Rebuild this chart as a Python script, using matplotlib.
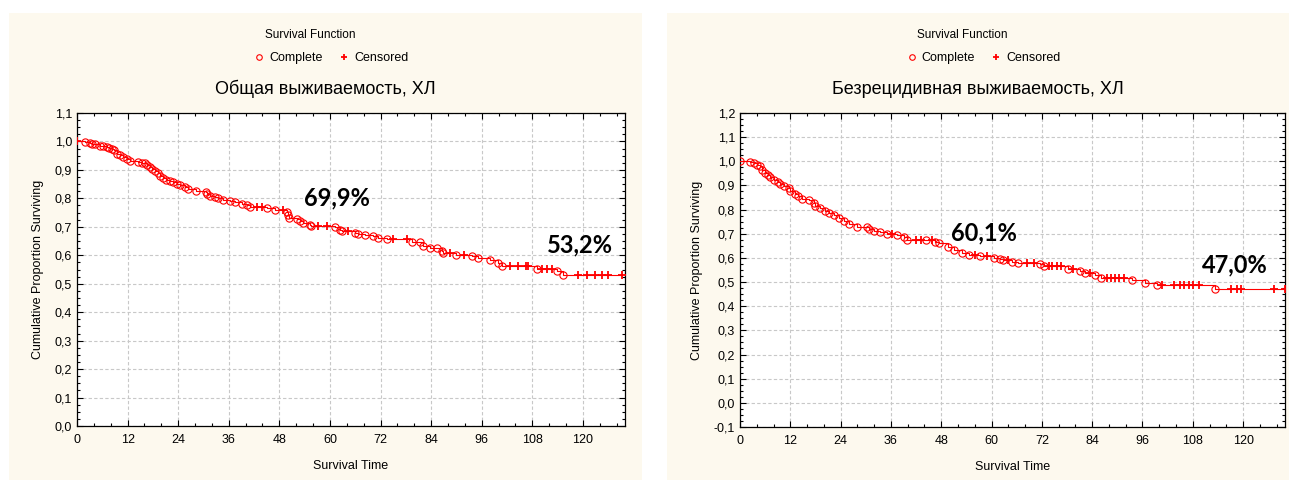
import matplotlib
matplotlib.use("Agg")
import matplotlib.pyplot as plt
from matplotlib.patches import Rectangle
from matplotlib.lines import Line2D
from matplotlib.ticker import MultipleLocator, FuncFormatter
import numpy as np

plt.rcParams['font.family'] = ['Liberation Sans', 'DejaVu Sans']

# ---- Data: Overall survival (left) ----
os_time = [0, 2.0, 3.1, 3.5, 4.3, 5.5, 6.2, 7.0, 7.7, 8.2, 8.8, 9.4, 10.2, 11.0, 11.8, 12.6,
           14.5, 15.4, 16.1, 16.5, 17.3, 17.7, 18.5, 19.1, 19.7, 20.3, 21.1, 22.1, 22.8, 23.7,
           24.4, 25.6, 26.4, 28.2, 30.6, 30.8, 31.6, 32.7, 33.5, 34.7, 36.3, 37.5, 39.1, 40.3,
           41.0, 42.6, 43.8, 45.1, 47.0, 48.9, 49.8, 50.1, 50.3, 52.2, 52.9, 53.6, 55.3, 55.5,
           57.2, 59.3, 61.2, 62.4, 62.9, 64.3, 66.0, 66.7, 68.3, 70.2, 71.4, 73.5, 75.0, 78.3,
           79.5, 81.4, 82.1, 83.7, 85.4, 86.6, 86.9, 88.5, 89.9, 91.8, 93.6, 95.1, 98.0, 99.9,
           100.8, 102.7, 104.7, 106.4, 107.1, 109.1, 110.2, 111.4, 112.6, 113.8, 115.4, 118.9,
           121.0, 122.9, 124.5, 126.0, 129.2]
os_surv = [1.000, 0.998, 0.996, 0.992, 0.990, 0.985, 0.983, 0.980, 0.976, 0.973, 0.970, 0.957,
           0.953, 0.946, 0.939, 0.930, 0.927, 0.925, 0.923, 0.918, 0.910, 0.902, 0.896, 0.888,
           0.879, 0.870, 0.866, 0.862, 0.857, 0.852, 0.847, 0.840, 0.833, 0.825, 0.822, 0.815,
           0.810, 0.806, 0.803, 0.796, 0.789, 0.786, 0.780, 0.775, 0.769, 0.769, 0.769, 0.766,
           0.759, 0.759, 0.751, 0.741, 0.731, 0.728, 0.719, 0.712, 0.708, 0.702, 0.702, 0.702,
           0.698, 0.690, 0.684, 0.684, 0.680, 0.675, 0.672, 0.667, 0.661, 0.656, 0.656, 0.656,
           0.648, 0.645, 0.634, 0.627, 0.624, 0.616, 0.609, 0.609, 0.602, 0.602, 0.598, 0.590,
           0.582, 0.574, 0.562, 0.562, 0.562, 0.562, 0.562, 0.553, 0.553, 0.553, 0.553, 0.543,
           0.532, 0.532, 0.532, 0.532, 0.532, 0.532, 0.532]
os_event = [0, 1, 1, 1, 1, 1, 1, 1, 1, 1, 1, 1, 1, 1, 1, 1, 1, 1, 1, 1, 1, 1, 1, 1, 1, 1, 1, 1,
            1, 1, 1, 1, 1, 1, 1, 1, 1, 1, 1, 1, 1, 1, 1, 1, 1, 0, 0, 1, 1, 0, 1, 1, 1, 1, 1, 1,
            1, 1, 0, 0, 1, 1, 1, 0, 1, 1, 1, 1, 1, 1, 0, 0, 1, 1, 1, 1, 1, 1, 1, 0, 1, 0, 1, 1,
            1, 1, 1, 0, 0, 0, 0, 1, 0, 0, 0, 1, 1, 0, 0, 0, 0, 0, 0]

# ---- Data: Relapse-free survival (right) ----
rfs_time = [0, 2.4, 3.4, 4.0, 4.8, 5.2, 6.0, 6.6, 7.2, 8.2, 9.0, 9.6, 10.4, 11.6, 12.0, 13.0,
            13.8, 14.8, 16.4, 17.6, 18.0, 19.2, 20.2, 21.2, 22.4, 23.5, 24.7, 25.9, 27.9, 30.3,
            30.7, 31.9, 33.5, 35.1, 36.3, 37.5, 39.1, 39.9, 42.0, 43.1, 44.4, 45.8, 46.5, 47.5,
            49.7, 51.1, 52.9, 54.7, 56.0, 57.3, 59.0, 60.7, 61.9, 62.7, 64.0, 64.8, 66.3, 68.5,
            70.2, 71.5, 72.5, 73.6, 74.5, 75.5, 76.5, 78.2, 79.5, 81.0, 82.2, 83.5, 84.6, 86.1,
            87.5, 88.5, 89.5, 90.5, 91.5, 93.4, 96.6, 99.4, 100.7, 103.5, 105.0, 106.0, 107.0,
            108.0, 109.6, 113.4, 117.0, 118.5, 119.5, 127.3, 130.0]
rfs_surv = [1.000, 0.996, 0.992, 0.986, 0.980, 0.965, 0.952, 0.942, 0.933, 0.924, 0.916, 0.906,
            0.897, 0.889, 0.876, 0.865, 0.858, 0.846, 0.840, 0.827, 0.814, 0.806, 0.795, 0.786,
            0.776, 0.765, 0.751, 0.740, 0.730, 0.726, 0.720, 0.710, 0.706, 0.698, 0.698, 0.695,
            0.688, 0.676, 0.676, 0.676, 0.673, 0.673, 0.664, 0.660, 0.645, 0.631, 0.622, 0.613,
            0.613, 0.608, 0.608, 0.600, 0.595, 0.592, 0.592, 0.585, 0.578, 0.578, 0.578, 0.575,
            0.565, 0.565, 0.565, 0.565, 0.565, 0.554, 0.554, 0.544, 0.539, 0.539, 0.529, 0.518,
            0.518, 0.518, 0.518, 0.518, 0.518, 0.507, 0.496, 0.486, 0.486, 0.486, 0.486, 0.486,
            0.486, 0.486, 0.486, 0.472, 0.472, 0.472, 0.472, 0.472, 0.472]
rfs_event = [1, 1, 1, 1, 1, 1, 1, 1, 1, 1, 1, 1, 1, 1, 1, 1, 1, 1, 1, 1, 1, 1, 1, 1, 1, 1, 1, 1,
             1, 1, 1, 1, 1, 1, 0, 1, 1, 1, 0, 0, 1, 0, 1, 1, 1, 1, 1, 1, 0, 1, 0, 1, 1, 1, 0, 1,
             1, 0, 0, 1, 1, 0, 0, 0, 0, 1, 0, 1, 1, 0, 1, 1, 0, 0, 0, 0, 0, 1, 1, 1, 0, 0, 0, 0,
             0, 0, 0, 1, 0, 0, 0, 0, 0]

titles = ["Общая выживаемость, ХЛ", "Безрецидивная выживаемость, ХЛ"]
annot_left = [(61.7, 0.80, "69,9%"), (119.3, 0.635, "53,2%")]
annot_right = [(58.2, 0.703, "60,1%"), (118.1, 0.571, "47,0%")]
x_ticks = list(range(0, 121, 12))

W, H = 1289, 480
fig = plt.figure(figsize=(W / 100, H / 100), dpi=100)
fig.patch.set_facecolor("white")

cream = "#FDF9EE"
panels = [(9, 642), (667, 1289)]
for (x0, x1) in panels:
    fig.patches.append(Rectangle((x0 / W, 0), (x1 - x0) / W, (H - 13) / H,
                                 transform=fig.transFigure, facecolor=cream,
                                 edgecolor="none", zorder=-10))

red = "#FF0000"
fmt = FuncFormatter(lambda v, p: ("%.1f" % v).replace(".", ",").replace("-0,0", "0,0"))

def draw(ax_px, times, surv, event, ylim, title, annots, panel):
    l, r, t, b = ax_px
    ax = fig.add_axes([l / W, (H - b) / H, (r - l) / W, (b - t) / H])
    ax.set_facecolor("white")
    times = np.array(times); surv = np.array(surv); event = np.array(event)
    ax.step(times, surv, where="post", color=red, lw=0.8, zorder=3)
    ax.plot(times[event == 1], surv[event == 1], "o", ms=5.2, mfc="none", mec=red, mew=0.8, zorder=4)
    ax.plot(times[event == 0], surv[event == 0], "+", ms=5.5, color=red, mew=1.3, zorder=4)
    ax.set_xlim(0, 130)
    ax.set_ylim(*ylim)
    ax.xaxis.set_minor_locator(MultipleLocator(4))
    ax.yaxis.set_major_locator(MultipleLocator(0.1))
    ax.yaxis.set_minor_locator(MultipleLocator(0.025))
    ax.yaxis.set_major_formatter(fmt)
    ax.set_xticks(x_ticks)
    ax.tick_params(which="both", direction="in", top=True, right=True, colors="black",
                   labelsize=9, length=4, width=0.8)
    ax.tick_params(which="minor", length=2.5)
    ax.tick_params(axis="x", pad=6)
    ax.grid(True, which="major", ls=(0, (3, 2)), color="#C8C8C8", lw=0.8)
    for s in ax.spines.values():
        s.set_color("black"); s.set_linewidth(0.9)
    ax.set_xlabel("Survival Time", fontsize=9, labelpad=10)
    ax.set_ylabel("Cumulative Proportion Surviving", fontsize=9, labelpad=8)
    for (xx, yy, txt) in annots:
        ax.text(xx, yy, txt, fontsize=17, fontweight="bold", family="Lato",
                ha="center", va="center", zorder=5)
    cx = (panel[0] + panel[1]) / 2 / W
    fig.text(cx, 1 - 89 / H, title, ha="center", va="center", fontsize=13)
    fig.text(cx - 0.012, 1 - 35 / H, "Survival Function", ha="center", va="center", fontsize=8.5)
    handles = [Line2D([], [], ls="none", marker="o", ms=4, mfc="none", mec=red, mew=0.8),
               Line2D([], [], ls="none", marker="+", ms=5, color=red, mew=1.3)]
    fig.legend(handles, ["Complete", "Censored"], loc="center", ncol=2, frameon=False,
               bbox_to_anchor=(cx + 0.004, 1 - 58 / H), fontsize=9, handletextpad=0.3,
               columnspacing=1.2, handlelength=1.0)
    return ax

draw((77, 625, 113, 426), os_time, os_surv, os_event, (0, 1.1), titles[0], annot_left, panels[0])
draw((740, 1285, 113, 427), rfs_time, rfs_surv, rfs_event, (-0.1, 1.2), titles[1], annot_right, panels[1])

fig.savefig("out.png", dpi=100, facecolor="white")
